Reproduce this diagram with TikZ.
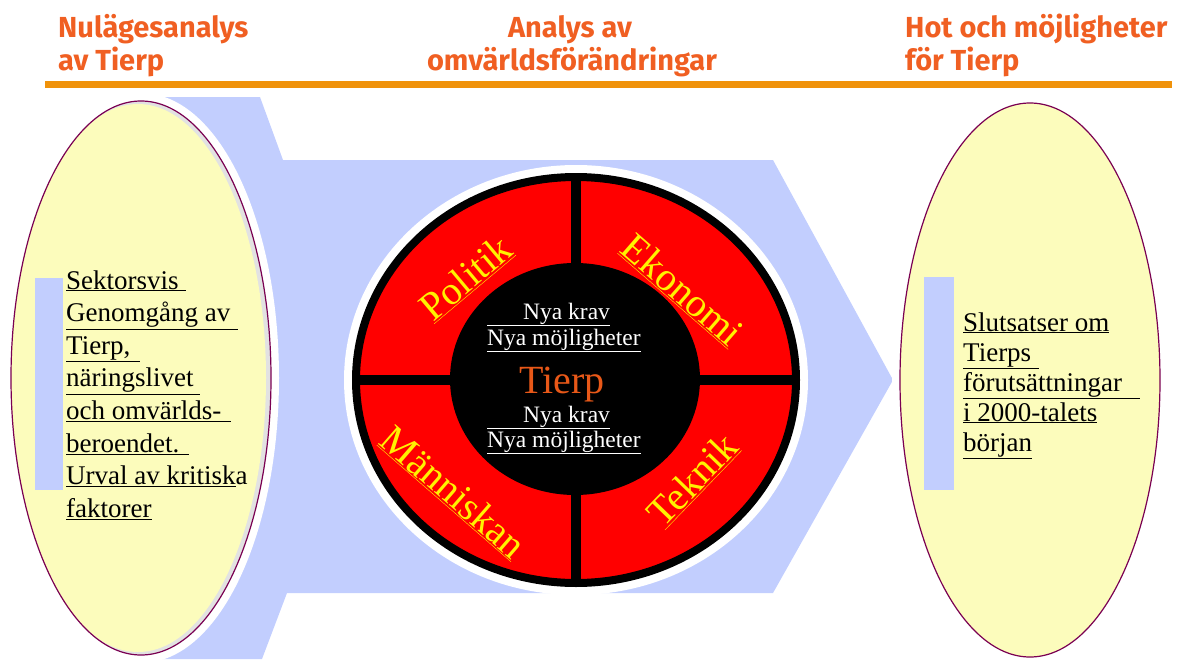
\documentclass[tikz,border=0pt]{standalone}
\usepackage{fontspec}
\setmainfont{Liberation Serif}
\newfontfamily\rubrikfont{Fira Sans}
\usepackage{tikz}
\usetikzlibrary{shapes.geometric}

\definecolor{rubrikorange}{RGB}{240,95,34}
\definecolor{linjeorange}{RGB}{240,146,10}
\definecolor{pilbla}{RGB}{194,206,254}
\definecolor{ovalgul}{RGB}{252,252,188}
\definecolor{ovalkant}{RGB}{122,0,82}
\definecolor{skugga}{RGB}{226,226,226}
\definecolor{tierpfarg}{RGB}{232,88,24}

\begin{document}
\begin{tikzpicture}[x=1pt, y=-1pt,
    rubrik/.style={
      text=rubrikorange,
      font=\rubrikfont\bfseries\fontsize{29}{33}\selectfont,
      inner sep=0pt},
    oval/.style={
      ellipse,
      fill=ovalgul,
      draw=ovalkant,
      line width=1.2pt,
      inner sep=0pt,
      minimum width=260pt,
      minimum height=554pt,
      preaction={draw=white, line width=16pt}},
    skuggad/.style={
      fill=skugga,
      path picture={\fill[ovalgul] ([xshift=-3pt]path picture bounding box.center)
        ellipse [x radius=128pt, y radius=274pt];}},
    hjul/.style={
      ellipse,
      fill=red,
      draw=black,
      line width=8pt,
      inner sep=0pt,
      minimum width=440pt,
      minimum height=406pt,
      preaction={draw=white, line width=24pt}},
    karna/.style={
      ellipse,
      fill=black,
      inner sep=0pt,
      minimum width=250pt,
      minimum height=232pt},
    brodtext/.style={
      font=\fontsize{27}{32}\selectfont,
      inner sep=0pt,
      anchor=base west},
    sektor/.style={
      text=yellow,
      font=\fontsize{40}{48}\selectfont,
      inner sep=0pt,
      anchor=base},
    karntext/.style={
      text=white,
      font=\fontsize{23.5}{28}\selectfont,
      inner sep=0pt,
      anchor=base west}
    ]

  \useasboundingbox (0,0) rectangle (1184,659);

  \fill[pilbla] (140,97) -- (260,97) -- (283,160) -- (773,160) -- (893,380)
    -- (773,593) -- (287,593) -- (262,659) -- (140,659) -- cycle;

  \node at (58,37) (rubrik1) [rubrik, anchor=base west] {Nulägesanalys};
  \node at (58,70) (rubrik2) [rubrik, anchor=base west] {av Tierp};
  \node at (570,37) (rubrik3) [rubrik, anchor=base] {Analys av};
  \node at (572,70) (rubrik4) [rubrik, anchor=base] {omvärldsförändringar};
  \node at (905,37) (rubrik5) [rubrik, anchor=base west] {Hot och möjligheter};
  \node at (905,70) (rubrik6) [rubrik, anchor=base west] {för Tierp};

  \draw[linjeorange, line width=7pt] (45,84.5) -- (1172,84.5);

  \node at (141,378) (nulage) [oval, skuggad] {};
  \node at (1030,380) (slutsats) [oval] {};

  \fill[pilbla] (35,278) rectangle (63,490);
  \fill[pilbla] (924,277) rectangle (954,490);

  \foreach \rad [count=\i] in {
      {\underline{Sektorsvis\hspace{7pt}}},
      {\underline{Genomgång av\hspace{8pt}}},
      {\underline{Tierp,\hspace{10pt}}},
      {\underline{näringslivet\hspace{6pt}}},
      {\underline{och omvärlds-\hspace{10pt}}},
      {\underline{beroendet.\hspace{10pt}}},
      {\underline{Urval av kritisk}a},
      {\underline{faktorer}}}
    \node at (66,{289+32.6*(\i-1)}) (vanster\i) [brodtext] {\rad};

  \foreach \rad [count=\i] in {
      {\underline{Slutsatser om}},
      {\underline{Tierps\hspace{8pt}}},
      {\underline{förutsättningar\hspace{18pt}}},
      {\underline{i 2000-talets}},
      {\underline{början}}}
    \node at (963,{331+30*(\i-1)}) (hoger\i) [brodtext] {\rad};

  \node at (576,380) (ring) [hjul] {};
  \draw[line width=10pt] (ring.north) -- (ring.south) (ring.west) -- (ring.east);
  \node at (575,379) (karna) [karna] {};

  \node at (474,288) (politik) [sektor, rotate=40] {\underline{Politik}};
  \node at (674,300) (ekonomi) [sektor, rotate=-41] {\underline{Ekonomi}};
  \node at (445,502) (manniskan) [sektor, rotate=-41] {\underline{Människan}};
  \node at (702,489) (teknik) [sektor, rotate=46] {\underline{Teknik}};

  \node at (487,319) (krav1) [karntext] {\underline{\hspace{36pt}Nya krav}};
  \node at (487,345) (mojlig1) [karntext] {\underline{Nya möjligheter}};
  \node at (562,393) (tierp) [sektor, text=tierpfarg] {Tierp};
  \node at (487,422) (krav2) [karntext] {\underline{\hspace{36pt}Nya krav}};
  \node at (487,447) (mojlig2) [karntext] {\underline{Nya möjligheter}};

\end{tikzpicture}
\end{document}
